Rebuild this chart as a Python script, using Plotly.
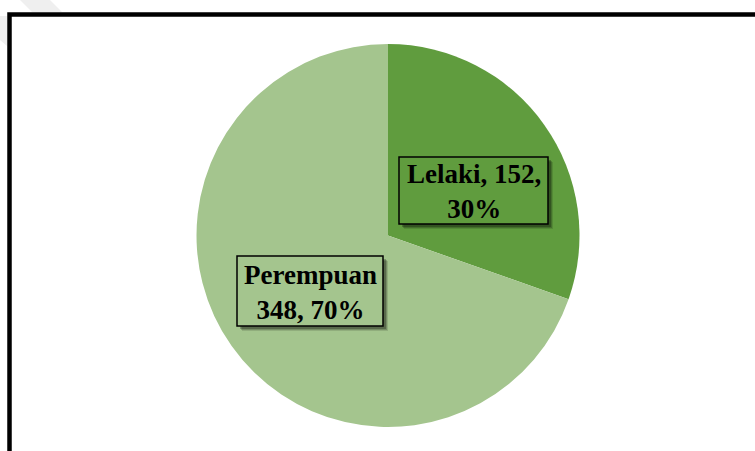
import plotly.graph_objects as go

# ---- data ----
labels = ["Lelaki", "Perempuan"]
values = [152, 348]
percents = [30, 70]
colors = ["#609C3E", "#A4C58E"]

W, H = 755, 451

def px_x(x):
    return x / W

def px_y(y):
    return 1 - y / H

fig = go.Figure()
fig.add_trace(go.Pie(
    labels=labels,
    values=values,
    sort=False,
    direction="clockwise",
    rotation=0,
    textinfo="none",
    hoverinfo="label+value+percent",
    marker=dict(colors=colors, line=dict(width=0)),
    domain=dict(x=[px_x(196), px_x(580)], y=[px_y(427), px_y(44)]),
    showlegend=False,
))

shapes = []
# faint watermark bands at top-left
shapes.append(dict(type="path", xref="paper", yref="paper", layer="below",
                   path=f"M {px_x(20)},{px_y(0)} L {px_x(50)},{px_y(0)} L {px_x(62)},{px_y(12)} L {px_x(32)},{px_y(12)} Z",
                   fillcolor="#EFEFEF", line=dict(width=0)))
shapes.append(dict(type="path", xref="paper", yref="paper", layer="below",
                   path=f"M {px_x(0)},{px_y(16)} L {px_x(7)},{px_y(16)} L {px_x(7)},{px_y(46)} L {px_x(0)},{px_y(40)} Z",
                   fillcolor="#EFEFEF", line=dict(width=0)))
# frame
shapes.append(dict(type="rect", xref="paper", yref="paper", layer="above",
                   x0=px_x(9.5), x1=px_x(W + 20), y0=px_y(H + 20), y1=px_y(14.5),
                   line=dict(color="black", width=4.5), fillcolor="rgba(0,0,0,0)"))

# label boxes (pixel geometry: left, top, right, bottom)
boxes = [(399, 157, 548, 224), (237, 256, 383, 326)]
texts = [f"{labels[0]}, {values[0]},<br>{percents[0]}%",
         f"{labels[1]}<br>{values[1]}, {percents[1]}%"]

annotations = []
for (l, t, r, b), txt, col in zip(boxes, texts, colors):
    # soft shadow
    for off, alpha in [(5, 0.12), (4, 0.18), (3, 0.25)]:
        shapes.append(dict(type="rect", xref="paper", yref="paper", layer="above",
                           x0=px_x(l + off), x1=px_x(r + off), y0=px_y(b + off), y1=px_y(t + off),
                           fillcolor=f"rgba(0,0,0,{alpha})", line=dict(width=0)))
    shapes.append(dict(type="rect", xref="paper", yref="paper", layer="above",
                       x0=px_x(l), x1=px_x(r), y0=px_y(b), y1=px_y(t),
                       fillcolor=col, line=dict(color="black", width=1.5)))
    annotations.append(dict(
        x=px_x((l + r) / 2), y=px_y((t + b) / 2 + 1), xref="paper", yref="paper",
        xanchor="center", yanchor="middle", showarrow=False,
        text=f"<b>{txt}</b>", align="center",
        font=dict(family="Liberation Serif, Times New Roman, serif", size=27, color="black"),
    ))

fig.update_layout(
    width=W, height=H,
    margin=dict(l=0, r=0, t=0, b=0),
    paper_bgcolor="white", plot_bgcolor="white",
    shapes=shapes, annotations=annotations,
)

fig.write_html("out.html", config={"displayModeBar": False},
               post_script="document.body.style.margin='0';")
